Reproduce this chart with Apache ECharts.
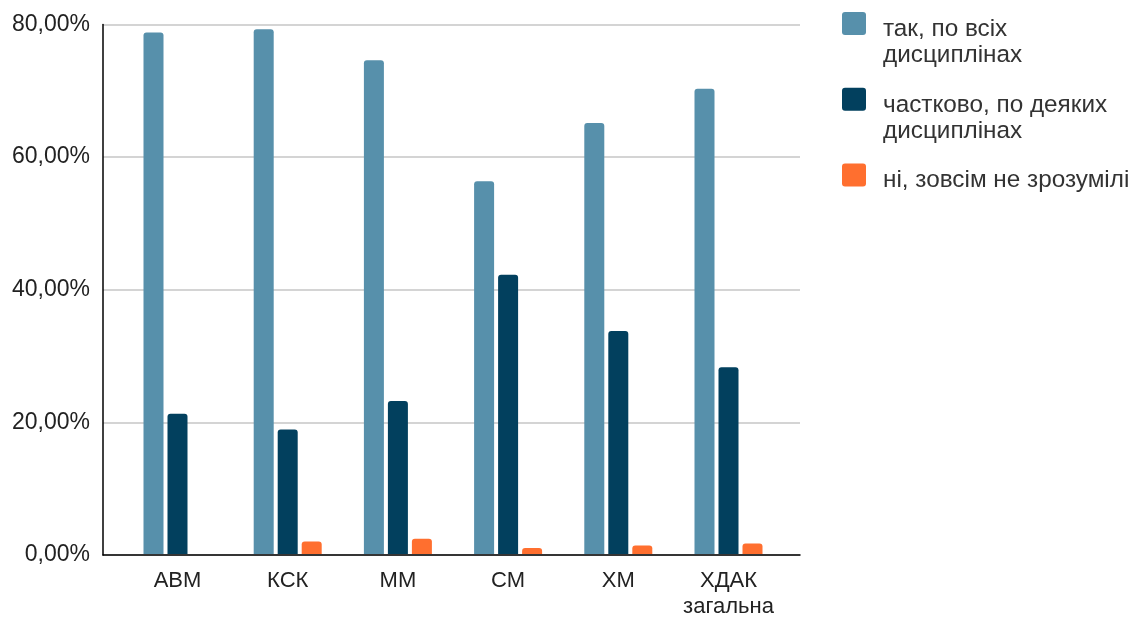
<!DOCTYPE html>
<html>
<head>
<meta charset="utf-8">
<script src="https://cdn.jsdelivr.net/npm/echarts@6/dist/echarts.min.js"></script>
<style>
html,body{margin:0;padding:0;background:#fff;}
#chart{width:1133px;height:620px;}
</style>
</head>
<body>
<div id="chart"></div>
<script>
const categories = ['АВМ', 'КСК', 'ММ', 'СМ', 'ХМ', 'ХДАК\nзагальна'];
const seriesNames = ['так, по всіх дисциплінах', 'частково, по деяких дисциплінах', 'ні, зовсім не зрозумілі'];
const legendLabels = ['так, по всіх\nдисциплінах', 'частково, по деяких\nдисциплінах', 'ні, зовсім не зрозумілі\n '];
const yesAll = [0.788, 0.793, 0.746, 0.563, 0.651, 0.703];
const partly = [0.212, 0.188, 0.231, 0.422, 0.337, 0.282];
const notAtAll = [0, 0.019, 0.023, 0.009, 0.013, 0.016];
const yTicks = { min: 0, max: 0.8, interval: 0.2 };
const colors = ['#5790ab', '#02405e', '#ff6f2f'];

const chart = echarts.init(document.getElementById('chart'), null, { renderer: 'canvas' });
const fmt = v => (v * 100).toFixed(2).replace('.', ',') + '%';
const iconPath = 'path://M3,0H21Q24,0 24,3V20Q24,23 21,23H3Q0,23 0,20V3Q0,0 3,0Z M36,61L36,61';

const barCommon = {
  type: 'bar',
  xAxisIndex: 1,
  yAxisIndex: 1,
  barWidth: 20,
  barGap: '20%',
  itemStyle: { borderRadius: [3, 3, 0, 0] }
};

chart.setOption({
  animation: false,
  color: colors,
  textStyle: { fontFamily: 'Liberation Sans, Arial, sans-serif' },
  grid: [
    { left: 103, right: 333, top: 24.5, bottom: 65 },
    { left: 122.4, right: 349.4, top: 24.5, bottom: 65 }
  ],
  legend: {
    orient: 'vertical',
    left: 842,
    top: 12,
    padding: 0,
    itemWidth: 36,
    itemHeight: 61,
    itemGap: 14.7,
    icon: iconPath,
    data: seriesNames,
    formatter: name => legendLabels[seriesNames.indexOf(name)],
    textStyle: { fontSize: 24.3, color: '#333', lineHeight: 26.3, fontFamily: 'Liberation Sans, Arial, sans-serif' },
    selectedMode: false
  },
  xAxis: [
    {
      gridIndex: 0, type: 'value', min: 0, max: 1,
      axisLine: { show: true, lineStyle: { color: '#000', width: 1.5 } },
      axisTick: { show: false }, axisLabel: { show: false }, splitLine: { show: false }
    },
    {
      gridIndex: 1, type: 'category', data: categories,
      axisLine: { show: false }, axisTick: { show: false },
      axisLabel: { fontSize: 22, color: '#222', margin: 14, lineHeight: 26, interval: 0 }
    }
  ],
  yAxis: [
    {
      gridIndex: 0, type: 'value', min: yTicks.min, max: yTicks.max, interval: yTicks.interval,
      axisLine: { show: true, lineStyle: { color: '#000', width: 1.5 } },
      axisTick: { show: false },
      axisLabel: { fontSize: 23, color: '#222', margin: 13, padding: [3, 0, 0, 0], formatter: fmt },
      splitLine: { lineStyle: { color: '#c6c6c6', width: 1.5 } }
    },
    {
      gridIndex: 1, type: 'value', min: yTicks.min, max: yTicks.max, interval: yTicks.interval,
      show: false, splitLine: { show: false }
    }
  ],
  series: [
    Object.assign({}, barCommon, { name: seriesNames[0], data: yesAll }),
    Object.assign({}, barCommon, { name: seriesNames[1], data: partly }),
    Object.assign({}, barCommon, { name: seriesNames[2], data: notAtAll })
  ]
});
</script>
</body>
</html>
